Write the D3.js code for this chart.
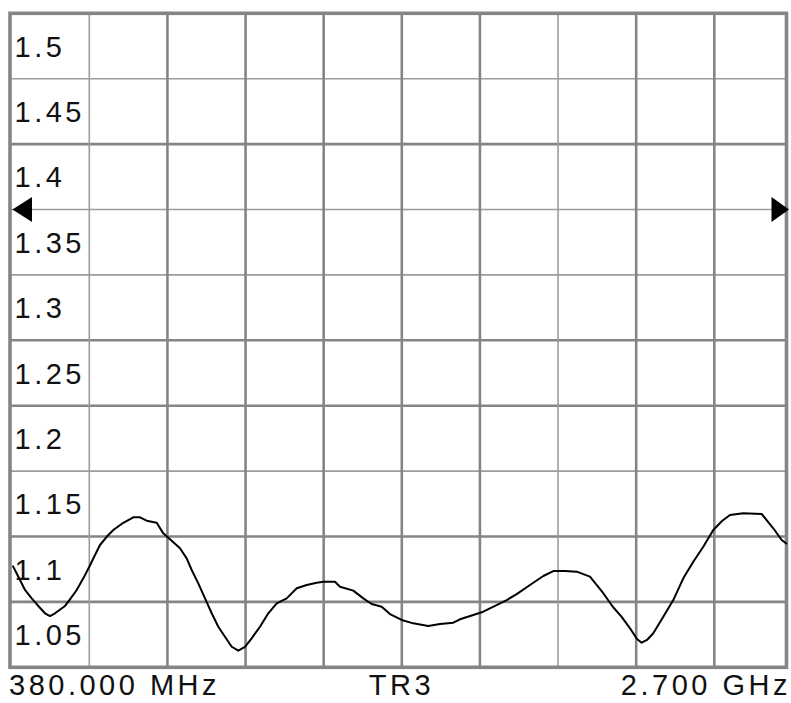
<!DOCTYPE html>
<html><head><meta charset="utf-8">
<script src="https://cdn.jsdelivr.net/npm/d3@7"></script>
<style>html,body{margin:0;padding:0;background:#fff;overflow:hidden}svg{display:block}</style>
</head><body><svg id="c" width="791" height="703"></svg>
<script>
// ---- data ----
const freqMHz = [382.1,404,418.9,439,458.7,478.8,493.8,508.7,538.7,553.6,573.7,593.4,611.4,628.5,643.4,663.5,683.2,713.2,743.1,763.2,783.2,813.2,832.9,853,882.9,902.9,917.9,937.7,957.8,977.8,997.6,1017.6,1037.7,1057.4,1077.5,1097.5,1122.4,1147.2,1172.4,1202.3,1232.3,1262.2,1292.1,1311.9,1346.9,1361.9,1401.7,1431.6,1456.8,1486.7,1511.5,1546.6,1581.3,1626.2,1661.2,1701,1721.1,1760.9,1790.8,1825.9,1860.9,1890.8,1930.6,1970.5,2000.4,2035.4,2070.4,2110.2,2145.2,2179.1,2205.1,2230,2250.9,2265,2280.9,2299.7,2329.7,2359.6,2389.5,2419.5,2449.4,2479.3,2505.4,2529.3,2569.2,2624.2,2658.9,2684.1,2700];
const vswr = [1.0777,1.0667,1.0591,1.0527,1.0469,1.0413,1.0392,1.0413,1.0469,1.052,1.0591,1.068,1.0769,1.0859,1.0935,1.0998,1.105,1.1105,1.1147,1.1147,1.1121,1.1105,1.1024,1.0979,1.091,1.0833,1.0744,1.0642,1.0527,1.0413,1.031,1.0234,1.0157,1.0127,1.0157,1.0222,1.031,1.0413,1.0489,1.0527,1.0604,1.0629,1.0647,1.0654,1.0654,1.0616,1.0586,1.0527,1.0484,1.0463,1.0407,1.0362,1.0336,1.0316,1.0331,1.0341,1.0367,1.04,1.0425,1.0469,1.0514,1.056,1.0629,1.0698,1.0736,1.0736,1.0731,1.0693,1.0583,1.0461,1.0385,1.0298,1.0216,1.0188,1.0209,1.026,1.0387,1.0514,1.068,1.0807,1.0922,1.105,1.1119,1.1164,1.1177,1.1172,1.1063,1.0973,1.0943];
const yTickValues = [1.5,1.45,1.4,1.35,1.3,1.25,1.2,1.15,1.1,1.05];
const yTickLabels = ["1.5","1.45","1.4","1.35","1.3","1.25","1.2","1.15","1.1","1.05"];
const yDomain = [1.0, 1.5];
const xDomain = [380, 2700];
const xDivisions = [1,2,3,4,5,6,7,8,9];
const startLabel = "380.000 MHz";
const centerLabel = "TR3";
const stopLabel = "2.700 GHz";
const refValue = 1.35;

// ---- layout ----
const L = 10, R = 786.5, T = 13.3, B = 667.3;
const svg = d3.select("#c");
const x = d3.scaleLinear().domain(xDomain).range([12, 787]);
const y = d3.scaleLinear().domain(yDomain).range([B, T]);
const gx = d3.scaleLinear().domain([1, 9]).range([89.3, 714.3]);
const thinH = new Set([1.45, 1.35, 1.3, 1.15]);
const thinV = new Set([1, 7]);

svg.append("rect").attr("width", 791).attr("height", 703).attr("fill", "#fff");

// grid
const yLines = yTickValues.slice(1);
svg.append("g").selectAll("line").data(yLines).join("line")
  .attr("x1", L).attr("x2", R)
  .attr("y1", d => y(d)).attr("y2", d => y(d))
  .attr("stroke", d => thinH.has(d) ? "#9c9c9c" : "#858585")
  .attr("stroke-width", d => thinH.has(d) ? 1.6 : 2.6);
svg.append("g").selectAll("line").data(xDivisions).join("line")
  .attr("x1", d => gx(d)).attr("x2", d => gx(d))
  .attr("y1", T).attr("y2", B)
  .attr("stroke", d => thinV.has(d) ? "#9c9c9c" : "#858585")
  .attr("stroke-width", d => thinV.has(d) ? 1.6 : 2.6);

// frame
svg.append("rect").attr("x", L).attr("y", T).attr("width", R - L).attr("height", B - T)
  .attr("fill", "none").attr("stroke", "#858585").attr("stroke-width", 3.6);

// y labels
const rowH = Math.abs(y(yTickValues[1]) - y(yTickValues[0]));
svg.append("g").selectAll("text").data(yTickValues).join("text")
  .attr("x", 14.5).attr("y", d => y(d) + rowH / 2 + 10.5)
  .attr("font-family", "Liberation Sans, Arial, sans-serif").attr("font-size", 29)
  .attr("letter-spacing", 3.5).attr("fill", "#111")
  .text((d, i) => yTickLabels[i]);

// bottom labels
const bl = svg.append("g").attr("font-family", "Liberation Sans, Arial, sans-serif")
  .attr("font-size", 29).attr("letter-spacing", 3.5).attr("fill", "#111");
bl.append("text").attr("x", 9).attr("y", 695).text(startLabel);
bl.append("text").attr("x", 401.5).attr("y", 695).attr("text-anchor", "middle").text(centerLabel);
bl.append("text").attr("x", 791).attr("y", 695).attr("text-anchor", "end").text(stopLabel);

// trace
const pts = freqMHz.map((f, i) => [f, vswr[i]]);
svg.append("path").datum(pts)
  .attr("d", d3.line().x(d => x(d[0])).y(d => y(d[1])))
  .attr("fill", "none").attr("stroke", "#000").attr("stroke-width", 2)
  .attr("stroke-linejoin", "round");

// reference markers
const ry = y(refValue);
svg.append("path").attr("d", `M${L + 2.5},${ry} L${L + 22},${ry - 12.5} L${L + 22},${ry + 12.5} Z`).attr("fill", "#000");
svg.append("path").attr("d", `M${R + 2.5},${ry} L${R - 15},${ry - 12.5} L${R - 15},${ry + 12.5} Z`).attr("fill", "#000");
</script></body></html>
